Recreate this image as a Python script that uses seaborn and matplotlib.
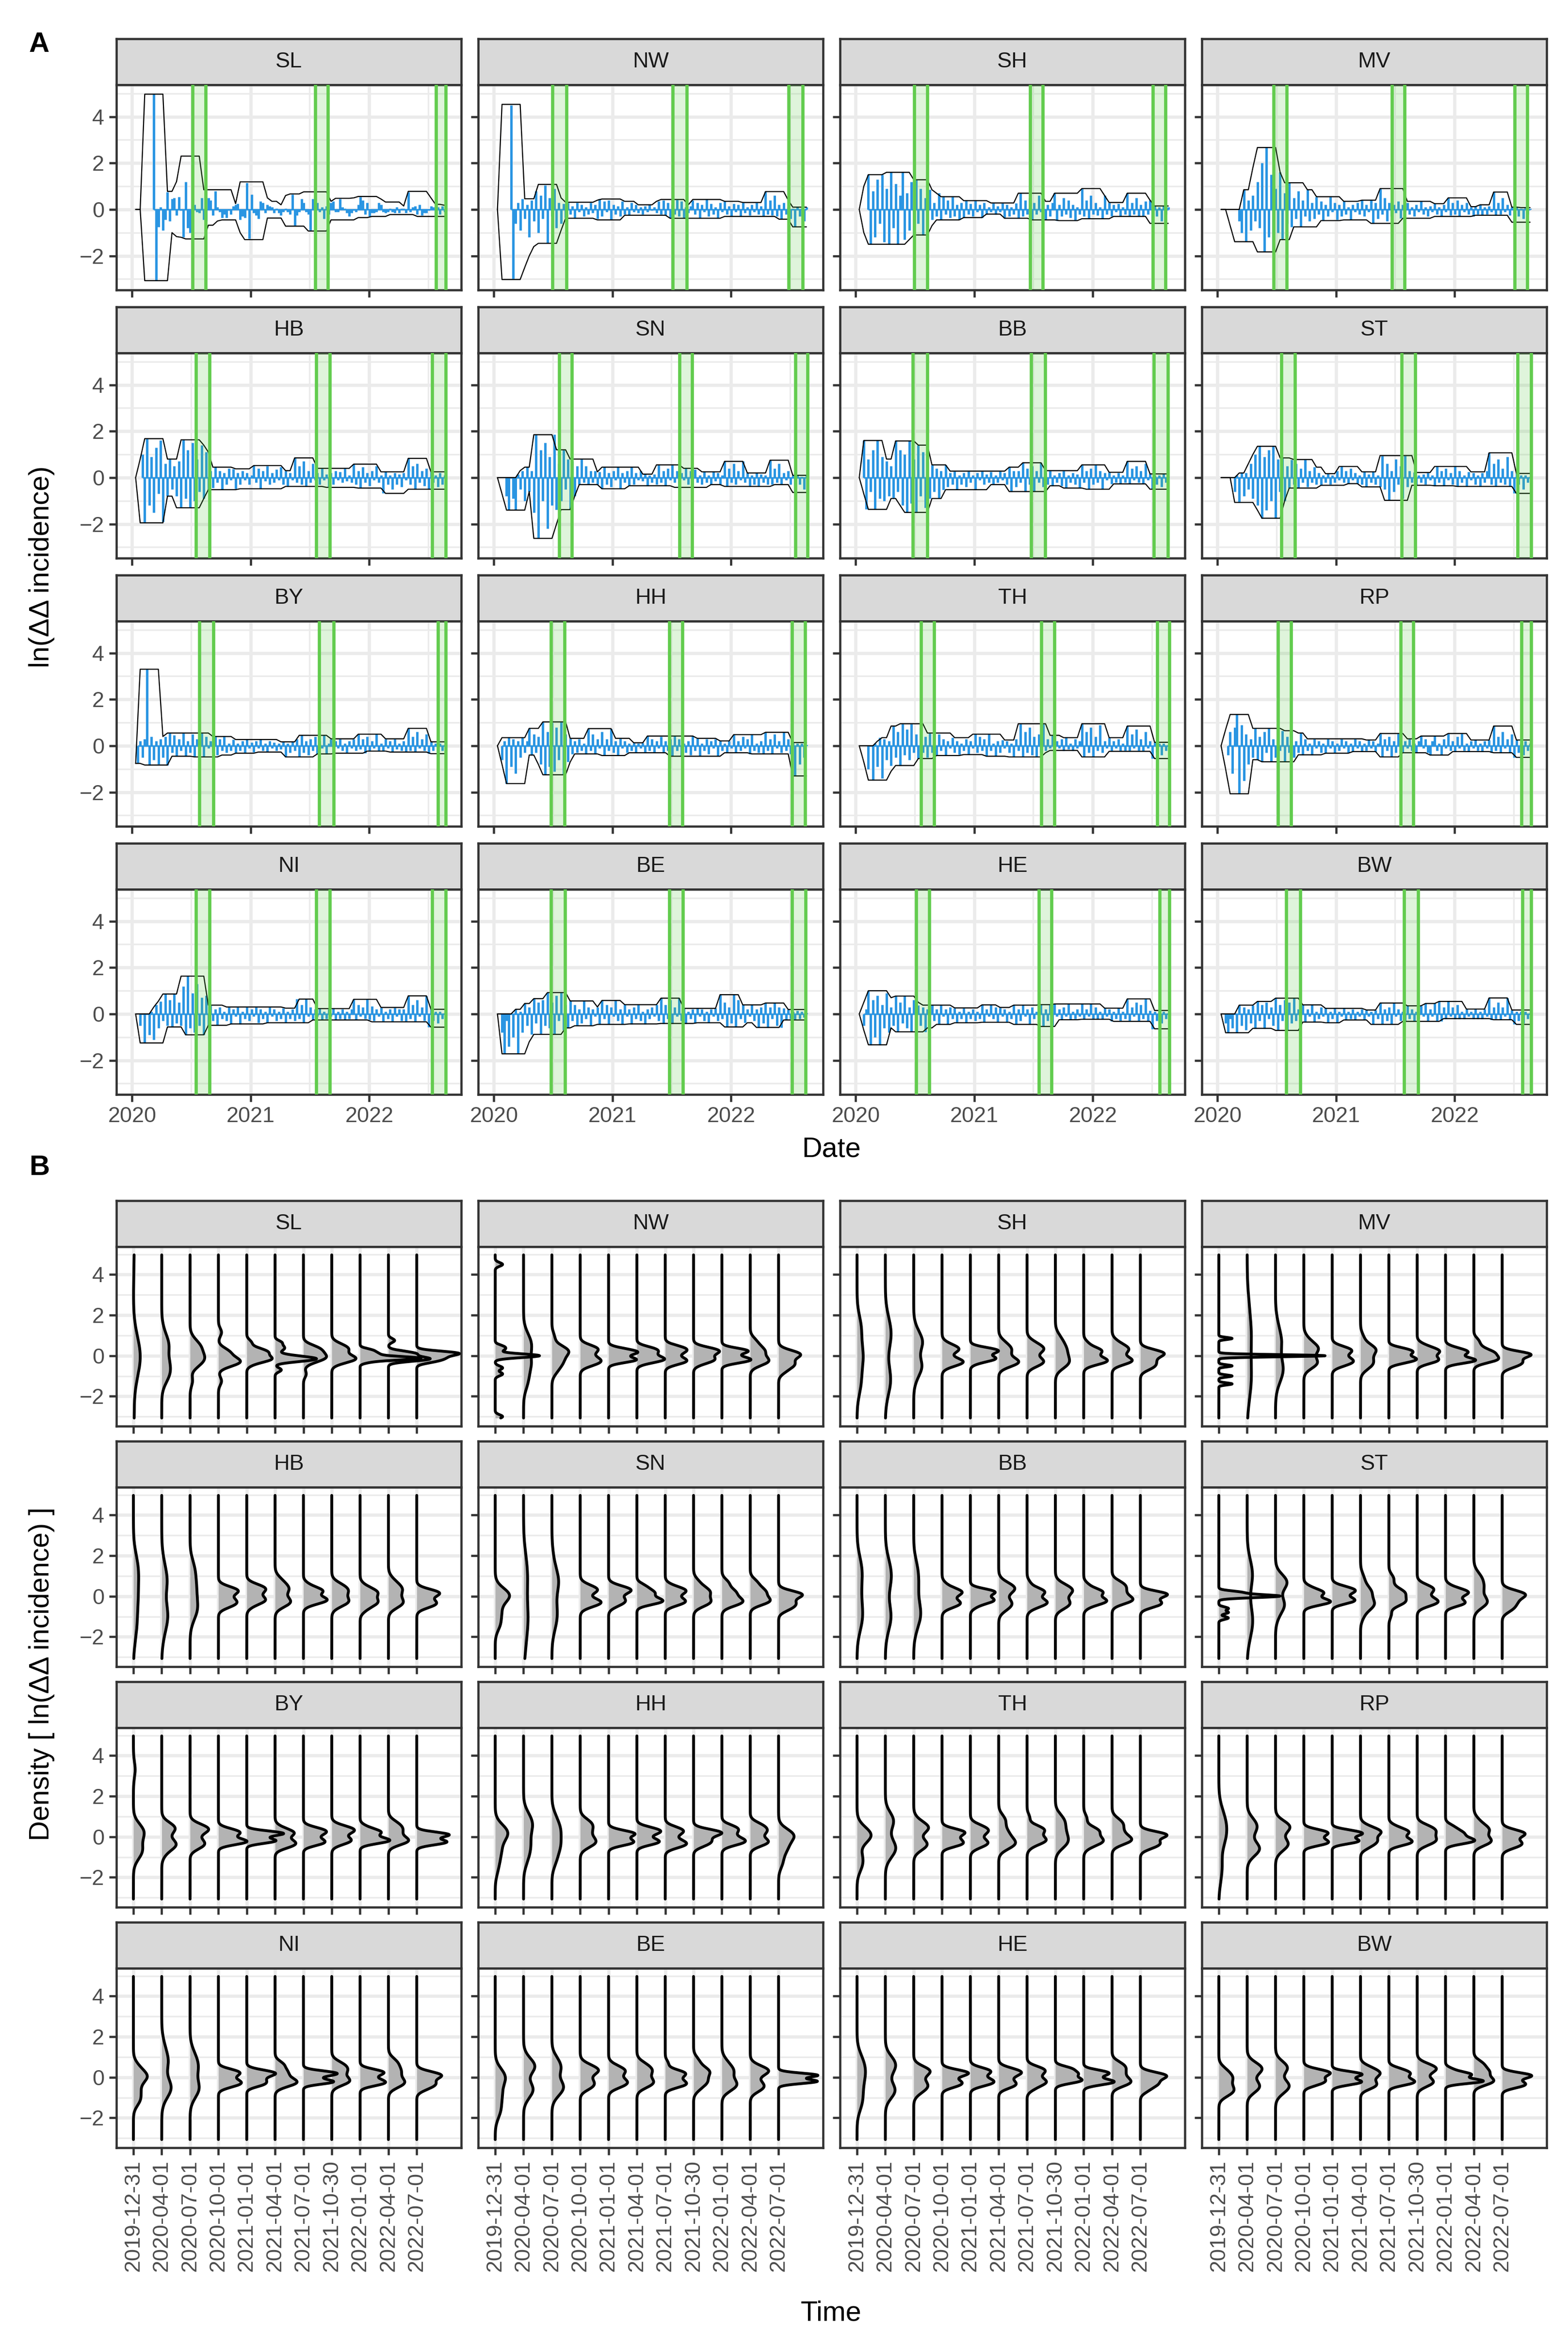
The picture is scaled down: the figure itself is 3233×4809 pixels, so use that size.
import numpy as np
import pandas as pd
import matplotlib
matplotlib.use("Agg")
import matplotlib.pyplot as plt
import matplotlib.dates as mdates
from matplotlib.ticker import MultipleLocator
import seaborn as sns

# ------------------------------------------------------------------ data
STATES = ["SL", "NW", "SH", "MV", "HB", "SN", "BB", "ST",
          "BY", "HH", "TH", "RP", "NI", "BE", "HE", "BW"]

ENV_START = "2020-01-12"     # envelope read every 14 days
SPIKE_START = "2020-01-12"   # weekly ln(dd incidence) values
X_RANGE = ("2020-01-01", "2022-08-24")

UPPER = {
    "SL": [0, 0, 4.97, 4.97, 4.97, 4.97, 4.97, 0.78, 0.78, 1.2, 2.3, 2.3, 2.3, 2.3, 2.3, 0.85, 0.85, 0.85, 0.85, 0.85, 0.85, 0.85, 0.25, 1.19, 1.19, 1.19, 1.19, 1.19, 1.19, 0.5, 0.35, 0.35, 0.2, 0.6, 0.67, 0.67, 0.67, 0.76, 0.76, 0.76, 0.76, 0.76, 0.76, 0.35, 0.48, 0.48, 0.48, 0.48, 0.5, 0.56, 0.56, 0.56, 0.56, 0.56, 0.45, 0.32, 0.32, 0.32, 0.32, 0.15, 0.78, 0.78, 0.78, 0.78, 0.78, 0.5, 0.22, 0.22, 0.18],
    "NW": [0, 4.53, 4.53, 4.53, 4.53, 4.53, 0.46, 0.46, 0.46, 1.08, 1.08, 1.08, 1.08, 1.08, 0.5, 0.31, 0.31, 0.31, 0.31, 0.31, 0.31, 0.31, 0.4, 0.45, 0.45, 0.45, 0.45, 0.45, 0.35, 0.35, 0.35, 0.2, 0.2, 0.2, 0.2, 0.35, 0.43, 0.43, 0.43, 0.43, 0.43, 0.43, 0.2, 0.43, 0.43, 0.43, 0.43, 0.43, 0.43, 0.43, 0.35, 0.35, 0.35, 0.35, 0.3, 0.3, 0.3, 0.3, 0.3, 0.77, 0.77, 0.77, 0.77, 0.77, 0.4, 0.1, 0.1, 0.1, 0.1],
    "SH": [0, 1.0, 1.5, 1.5, 1.5, 1.5, 1.6, 1.6, 1.6, 1.6, 1.6, 1.6, 1.28, 1.28, 1.28, 1.28, 0.85, 0.7, 0.55, 0.55, 0.55, 0.55, 0.55, 0.38, 0.38, 0.38, 0.38, 0.38, 0.38, 0.28, 0.28, 0.28, 0.28, 0.28, 0.28, 0.7, 0.7, 0.7, 0.7, 0.7, 0.7, 0.35, 0.35, 0.7, 0.7, 0.7, 0.7, 0.7, 0.7, 0.9, 0.9, 0.9, 0.9, 0.9, 0.6, 0.3, 0.3, 0.3, 0.3, 0.7, 0.7, 0.7, 0.7, 0.7, 0.4, 0.15, 0.15, 0.15, 0.15],
    "MV": [0, 0, 0, 0, 0, 0.85, 0.85, 1.8, 2.67, 2.67, 2.67, 2.67, 2.67, 1.6, 1.15, 1.15, 1.15, 1.15, 1.15, 0.85, 0.85, 0.55, 0.55, 0.55, 0.55, 0.55, 0.55, 0.35, 0.35, 0.35, 0.35, 0.4, 0.4, 0.4, 0.4, 0.9, 0.9, 0.9, 0.9, 0.9, 0.9, 0.35, 0.35, 0.35, 0.35, 0.35, 0.35, 0.25, 0.25, 0.25, 0.5, 0.5, 0.5, 0.5, 0.5, 0.12, 0.12, 0.2, 0.2, 0.2, 0.75, 0.75, 0.75, 0.75, 0.1, 0.1, 0.08, 0.08, 0.08],
    "HB": [0, 0.8, 1.68, 1.68, 1.68, 1.68, 1.68, 0.8, 0.8, 0.8, 1.63, 1.63, 1.63, 1.63, 1.63, 1.4, 1.1, 0.45, 0.45, 0.45, 0.45, 0.45, 0.38, 0.38, 0.38, 0.38, 0.52, 0.52, 0.52, 0.52, 0.52, 0.52, 0.52, 0.3, 0.3, 0.85, 0.85, 0.85, 0.85, 0.85, 0.4, 0.4, 0.4, 0.4, 0.4, 0.4, 0.4, 0.4, 0.58, 0.58, 0.58, 0.58, 0.58, 0.58, 0.25, 0.25, 0.25, 0.25, 0.25, 0.25, 0.83, 0.83, 0.83, 0.83, 0.83, 0.25, 0.25, 0.25, 0.25],
    "SN": [0, 0, 0, 0, 0, 0.3, 0.45, 0.45, 1.85, 1.85, 1.85, 1.85, 1.85, 1.2, 1.2, 1.2, 0.8, 0.8, 0.8, 0.8, 0.8, 0.8, 0.25, 0.45, 0.45, 0.45, 0.45, 0.45, 0.45, 0.45, 0.45, 0.45, 0.15, 0.15, 0.15, 0.55, 0.55, 0.55, 0.55, 0.55, 0.55, 0.4, 0.4, 0.4, 0.4, 0.25, 0.25, 0.25, 0.25, 0.25, 0.7, 0.7, 0.7, 0.7, 0.7, 0.2, 0.2, 0.2, 0.2, 0.2, 0.75, 0.75, 0.75, 0.75, 0.75, 0.1, 0.1, 0.1, 0.1],
    "BB": [0, 1.6, 1.6, 1.6, 1.6, 1.6, 0.8, 0.8, 1.58, 1.58, 1.58, 1.58, 1.58, 1.4, 1.4, 1.4, 0.55, 0.55, 0.55, 0.55, 0.28, 0.28, 0.28, 0.28, 0.28, 0.28, 0.28, 0.28, 0.28, 0.28, 0.28, 0.28, 0.28, 0.45, 0.45, 0.45, 0.64, 0.64, 0.64, 0.64, 0.64, 0.3, 0.3, 0.3, 0.3, 0.3, 0.3, 0.3, 0.3, 0.55, 0.55, 0.55, 0.55, 0.55, 0.55, 0.23, 0.23, 0.23, 0.23, 0.7, 0.7, 0.7, 0.7, 0.7, 0.16, 0.16, 0.16, 0.16, 0.16],
    "ST": [0, 0, 0, 0, 0.2, 0.2, 0.6, 1.0, 1.35, 1.35, 1.35, 1.35, 1.35, 0.85, 0.85, 0.85, 0.78, 0.78, 0.78, 0.78, 0.78, 0.45, 0.45, 0.17, 0.17, 0.17, 0.48, 0.48, 0.48, 0.48, 0.48, 0.25, 0.25, 0.25, 0.25, 0.95, 0.95, 0.95, 0.95, 0.95, 0.95, 0.95, 0.95, 0.22, 0.22, 0.22, 0.22, 0.48, 0.48, 0.48, 0.48, 0.48, 0.48, 0.48, 0.48, 0.25, 0.25, 0.25, 0.25, 1.07, 1.07, 1.07, 1.07, 1.07, 1.07, 0.18, 0.18, 0.18, 0.18],
    "BY": [-0.76, 3.3, 3.3, 3.3, 3.3, 3.3, 0.4, 0.55, 0.55, 0.55, 0.55, 0.55, 0.55, 0.55, 0.55, 0.55, 0.55, 0.4, 0.4, 0.4, 0.4, 0.4, 0.27, 0.27, 0.27, 0.27, 0.27, 0.27, 0.27, 0.27, 0.27, 0.27, 0.17, 0.17, 0.17, 0.17, 0.45, 0.45, 0.45, 0.45, 0.45, 0.45, 0.45, 0.3, 0.3, 0.3, 0.3, 0.3, 0.3, 0.5, 0.5, 0.5, 0.5, 0.5, 0.5, 0.3, 0.3, 0.3, 0.3, 0.3, 0.75, 0.75, 0.75, 0.75, 0.75, 0.17, 0.17, 0.17, 0.17],
    "HH": [0, 0.35, 0.35, 0.35, 0.35, 0.35, 0.35, 0.75, 0.75, 0.75, 1.03, 1.03, 1.03, 1.03, 1.03, 1.03, 0.32, 0.32, 0.32, 0.32, 0.74, 0.74, 0.74, 0.74, 0.74, 0.74, 0.32, 0.32, 0.32, 0.32, 0.13, 0.13, 0.13, 0.42, 0.42, 0.42, 0.42, 0.42, 0.42, 0.42, 0.42, 0.42, 0.42, 0.42, 0.32, 0.32, 0.32, 0.32, 0.32, 0.21, 0.21, 0.21, 0.48, 0.48, 0.48, 0.48, 0.48, 0.48, 0.48, 0.58, 0.58, 0.58, 0.58, 0.58, 0.58, 0.14, 0.14, 0.14, 0.14],
    "TH": [0, 0, 0, 0, 0.2, 0.35, 0.35, 0.85, 0.85, 0.95, 0.95, 0.95, 0.95, 0.95, 0.95, 0.55, 0.55, 0.55, 0.55, 0.55, 0.55, 0.35, 0.35, 0.35, 0.35, 0.5, 0.5, 0.5, 0.5, 0.5, 0.5, 0.5, 0.25, 0.25, 0.25, 0.95, 0.95, 0.95, 0.95, 0.95, 0.95, 0.95, 0.45, 0.45, 0.45, 0.35, 0.35, 0.35, 0.35, 0.95, 0.95, 0.95, 0.95, 0.95, 0.95, 0.35, 0.35, 0.35, 0.35, 0.85, 0.85, 0.85, 0.85, 0.85, 0.85, 0.15, 0.15, 0.15, 0.15],
    "RP": [0, 0.7, 1.35, 1.35, 1.35, 1.35, 1.35, 0.75, 0.75, 0.75, 0.75, 0.75, 0.75, 0.75, 0.65, 0.65, 0.65, 0.55, 0.55, 0.3, 0.3, 0.3, 0.3, 0.3, 0.3, 0.3, 0.3, 0.3, 0.3, 0.3, 0.3, 0.3, 0.25, 0.25, 0.25, 0.53, 0.53, 0.53, 0.53, 0.53, 0.53, 0.3, 0.3, 0.3, 0.42, 0.42, 0.42, 0.42, 0.42, 0.42, 0.53, 0.53, 0.53, 0.53, 0.53, 0.25, 0.25, 0.25, 0.25, 0.25, 0.85, 0.85, 0.85, 0.85, 0.85, 0.25, 0.25, 0.25, 0.25],
    "NI": [0, 0, 0, 0, 0.3, 0.55, 0.86, 0.86, 0.86, 0.86, 1.63, 1.63, 1.63, 1.63, 1.63, 1.63, 0.38, 0.38, 0.38, 0.38, 0.3, 0.3, 0.3, 0.3, 0.3, 0.3, 0.3, 0.3, 0.3, 0.3, 0.3, 0.3, 0.3, 0.25, 0.25, 0.25, 0.64, 0.64, 0.64, 0.64, 0.23, 0.23, 0.23, 0.23, 0.23, 0.23, 0.23, 0.23, 0.63, 0.63, 0.63, 0.63, 0.63, 0.63, 0.28, 0.28, 0.28, 0.28, 0.28, 0.28, 0.78, 0.78, 0.78, 0.78, 0.78, 0.2, 0.2, 0.2, 0.2],
    "BE": [0, 0, 0, 0, 0.2, 0.2, 0.45, 0.45, 0.66, 0.66, 0.66, 0.92, 0.92, 0.92, 0.92, 0.92, 0.56, 0.56, 0.56, 0.56, 0.56, 0.56, 0.3, 0.58, 0.58, 0.58, 0.58, 0.58, 0.4, 0.4, 0.4, 0.4, 0.4, 0.4, 0.4, 0.4, 0.68, 0.68, 0.68, 0.68, 0.68, 0.24, 0.24, 0.24, 0.24, 0.24, 0.24, 0.24, 0.24, 0.83, 0.83, 0.83, 0.83, 0.83, 0.39, 0.39, 0.39, 0.39, 0.39, 0.47, 0.47, 0.47, 0.47, 0.47, 0.19, 0.19, 0.19, 0.19, 0.19],
    "HE": [0, 0.5, 1.0, 1.0, 1.0, 1.0, 1.0, 0.7, 0.77, 0.77, 0.77, 0.77, 0.77, 0.5, 0.38, 0.38, 0.38, 0.38, 0.38, 0.38, 0.38, 0.26, 0.26, 0.26, 0.26, 0.26, 0.26, 0.39, 0.39, 0.39, 0.39, 0.28, 0.28, 0.28, 0.38, 0.38, 0.38, 0.38, 0.38, 0.38, 0.4, 0.4, 0.4, 0.43, 0.43, 0.43, 0.43, 0.43, 0.43, 0.43, 0.43, 0.43, 0.43, 0.43, 0.25, 0.25, 0.25, 0.25, 0.25, 0.65, 0.65, 0.65, 0.65, 0.65, 0.65, 0.15, 0.15, 0.15, 0.15],
    "BW": [0, 0, 0, 0, 0.38, 0.38, 0.38, 0.38, 0.54, 0.54, 0.54, 0.54, 0.68, 0.68, 0.68, 0.68, 0.68, 0.68, 0.39, 0.39, 0.39, 0.39, 0.39, 0.24, 0.24, 0.24, 0.24, 0.24, 0.24, 0.24, 0.24, 0.24, 0.17, 0.17, 0.17, 0.47, 0.47, 0.47, 0.47, 0.47, 0.47, 0.35, 0.35, 0.35, 0.35, 0.45, 0.45, 0.45, 0.54, 0.54, 0.54, 0.54, 0.54, 0.54, 0.21, 0.21, 0.21, 0.21, 0.21, 0.69, 0.69, 0.69, 0.69, 0.69, 0.17, 0.17, 0.17, 0.17, 0.17],
}

LOWER = {
    "SL": [0, 0, -3.07, -3.07, -3.07, -3.07, -3.07, -3.07, -1.0, -1.17, -1.2, -1.27, -1.27, -1.27, -1.27, -1.27, -0.68, -0.68, -0.5, -0.45, -0.45, -0.45, -0.45, -1.0, -1.3, -1.3, -1.3, -1.3, -1.3, -0.37, -0.37, -0.37, -0.37, -0.72, -0.72, -0.72, -0.72, -0.72, -0.93, -0.93, -0.93, -0.93, -0.93, -0.45, -0.45, -0.45, -0.45, -0.45, -0.45, -0.35, -0.35, -0.35, -0.3, -0.3, -0.3, -0.3, -0.22, -0.22, -0.22, -0.22, -0.22, -0.22, -0.3, -0.3, -0.3, -0.3, -0.3, -0.3, -0.3],
    "NW": [0, -3.02, -3.02, -3.02, -3.02, -3.02, -2.5, -2.0, -1.6, -1.46, -1.46, -1.46, -1.46, -1.46, -0.9, -0.38, -0.38, -0.38, -0.38, -0.38, -0.38, -0.38, -0.45, -0.45, -0.45, -0.45, -0.45, -0.45, -0.25, -0.25, -0.25, -0.25, -0.25, -0.25, -0.25, -0.25, -0.25, -0.25, -0.38, -0.38, -0.38, -0.38, -0.38, -0.38, -0.38, -0.38, -0.38, -0.38, -0.38, -0.38, -0.3, -0.3, -0.3, -0.3, -0.3, -0.3, -0.3, -0.3, -0.3, -0.3, -0.3, -0.3, -0.42, -0.42, -0.42, -0.75, -0.75, -0.75, -0.75],
    "SH": [0, -1.0, -1.5, -1.5, -1.5, -1.5, -1.5, -1.5, -1.5, -1.5, -1.5, -1.3, -1.1, -1.1, -1.1, -1.1, -0.7, -0.45, -0.45, -0.45, -0.45, -0.45, -0.45, -0.35, -0.35, -0.35, -0.35, -0.35, -0.2, -0.2, -0.2, -0.2, -0.38, -0.38, -0.38, -0.38, -0.38, -0.38, -0.45, -0.45, -0.45, -0.45, -0.45, -0.45, -0.48, -0.48, -0.48, -0.48, -0.48, -0.4, -0.4, -0.4, -0.4, -0.4, -0.4, -0.4, -0.3, -0.3, -0.3, -0.3, -0.3, -0.3, -0.3, -0.3, -0.6, -0.6, -0.6, -0.6, -0.6],
    "MV": [0, 0, -0.7, -1.39, -1.39, -1.39, -1.39, -1.39, -1.83, -1.83, -1.83, -1.83, -1.83, -1.3, -1.3, -1.3, -0.75, -0.75, -0.75, -0.75, -0.75, -0.75, -0.48, -0.48, -0.48, -0.48, -0.48, -0.45, -0.45, -0.45, -0.45, -0.45, -0.45, -0.6, -0.6, -0.6, -0.6, -0.6, -0.6, -0.6, -0.38, -0.38, -0.38, -0.38, -0.38, -0.38, -0.38, -0.3, -0.3, -0.3, -0.3, -0.3, -0.3, -0.3, -0.3, -0.3, -0.25, -0.25, -0.25, -0.25, -0.25, -0.25, -0.25, -0.25, -0.55, -0.55, -0.55, -0.55, -0.55],
    "HB": [0, -1.95, -1.95, -1.95, -1.95, -1.95, -1.95, -0.8, -0.8, -1.3, -1.3, -1.3, -1.3, -1.3, -1.3, -0.9, -0.52, -0.52, -0.52, -0.52, -0.52, -0.52, -0.52, -0.48, -0.48, -0.48, -0.48, -0.48, -0.48, -0.48, -0.48, -0.48, -0.48, -0.38, -0.38, -0.38, -0.38, -0.38, -0.38, -0.38, -0.38, -0.38, -0.42, -0.42, -0.42, -0.42, -0.42, -0.42, -0.42, -0.45, -0.45, -0.45, -0.45, -0.45, -0.45, -0.68, -0.68, -0.68, -0.68, -0.68, -0.5, -0.5, -0.5, -0.5, -0.5, -0.5, -0.5, -0.5, -0.5],
    "SN": [0, -0.7, -1.4, -1.4, -1.4, -1.4, -1.4, -0.6, -2.62, -2.62, -2.62, -2.62, -2.62, -2.0, -1.38, -1.38, -1.38, -0.8, -0.3, -0.3, -0.3, -0.3, -0.3, -0.48, -0.48, -0.48, -0.48, -0.48, -0.48, -0.35, -0.35, -0.35, -0.35, -0.35, -0.35, -0.35, -0.35, -0.35, -0.35, -0.42, -0.42, -0.42, -0.42, -0.42, -0.42, -0.42, -0.42, -0.3, -0.3, -0.3, -0.38, -0.38, -0.38, -0.38, -0.38, -0.38, -0.38, -0.38, -0.38, -0.38, -0.38, -0.3, -0.3, -0.3, -0.3, -0.64, -0.64, -0.64, -0.64],
    "BB": [0, -0.7, -1.37, -1.37, -1.37, -1.37, -1.37, -0.9, -0.9, -1.2, -1.5, -1.5, -1.5, -1.5, -1.5, -1.5, -0.9, -0.9, -0.9, -0.52, -0.52, -0.52, -0.52, -0.52, -0.52, -0.52, -0.52, -0.52, -0.52, -0.3, -0.3, -0.3, -0.3, -0.6, -0.6, -0.6, -0.6, -0.6, -0.6, -0.6, -0.6, -0.6, -0.35, -0.35, -0.35, -0.45, -0.45, -0.45, -0.45, -0.45, -0.5, -0.5, -0.5, -0.5, -0.5, -0.5, -0.27, -0.27, -0.27, -0.27, -0.27, -0.27, -0.27, -0.27, -0.5, -0.5, -0.5, -0.5, -0.5],
    "ST": [0, 0, 0, -1.07, -1.07, -1.07, -1.07, -1.07, -1.4, -1.75, -1.75, -1.75, -1.75, -1.75, -1.0, -0.45, -0.45, -0.45, -0.45, -0.45, -0.45, -0.45, -0.33, -0.33, -0.33, -0.33, -0.33, -0.33, -0.26, -0.26, -0.26, -0.4, -0.4, -0.4, -0.4, -0.4, -0.98, -0.98, -0.98, -0.98, -0.98, -0.98, -0.33, -0.33, -0.33, -0.33, -0.33, -0.35, -0.35, -0.35, -0.35, -0.35, -0.38, -0.38, -0.38, -0.38, -0.38, -0.38, -0.38, -0.38, -0.38, -0.38, -0.38, -0.38, -0.38, -0.68, -0.68, -0.68, -0.68],
    "BY": [-0.76, -0.76, -0.83, -0.83, -0.83, -0.83, -0.83, -0.83, -0.45, -0.45, -0.45, -0.45, -0.45, -0.48, -0.48, -0.48, -0.48, -0.48, -0.48, -0.4, -0.4, -0.4, -0.32, -0.32, -0.32, -0.32, -0.32, -0.27, -0.27, -0.27, -0.27, -0.27, -0.27, -0.48, -0.48, -0.48, -0.48, -0.48, -0.48, -0.48, -0.35, -0.35, -0.35, -0.35, -0.32, -0.32, -0.32, -0.32, -0.32, -0.32, -0.32, -0.23, -0.23, -0.23, -0.23, -0.23, -0.27, -0.27, -0.27, -0.27, -0.27, -0.27, -0.27, -0.27, -0.27, -0.34, -0.34, -0.34, -0.34],
    "HH": [0, -0.8, -1.63, -1.63, -1.63, -1.63, -1.63, -0.4, -0.4, -0.8, -1.25, -1.25, -1.25, -1.25, -1.25, -1.25, -0.7, -0.35, -0.35, -0.35, -0.35, -0.35, -0.35, -0.42, -0.42, -0.42, -0.42, -0.42, -0.42, -0.3, -0.3, -0.3, -0.3, -0.3, -0.3, -0.3, -0.3, -0.3, -0.45, -0.45, -0.45, -0.45, -0.45, -0.45, -0.45, -0.45, -0.45, -0.45, -0.45, -0.45, -0.3, -0.3, -0.3, -0.3, -0.3, -0.3, -0.35, -0.35, -0.35, -0.35, -0.35, -0.35, -0.35, -0.35, -0.35, -1.3, -1.3, -1.3, -1.3],
    "TH": [0, -0.7, -1.48, -1.48, -1.48, -1.48, -1.48, -1.1, -0.85, -0.85, -0.85, -0.85, -0.85, -0.55, -0.55, -0.55, -0.55, -0.42, -0.42, -0.42, -0.42, -0.42, -0.42, -0.38, -0.38, -0.38, -0.38, -0.38, -0.45, -0.45, -0.45, -0.45, -0.45, -0.48, -0.48, -0.48, -0.48, -0.48, -0.48, -0.48, -0.48, -0.3, -0.2, -0.2, -0.2, -0.2, -0.2, -0.2, -0.2, -0.48, -0.48, -0.48, -0.48, -0.48, -0.48, -0.24, -0.24, -0.24, -0.24, -0.24, -0.24, -0.24, -0.24, -0.24, -0.24, -0.55, -0.55, -0.55, -0.55],
    "RP": [0, -1.0, -2.07, -2.07, -2.07, -2.07, -2.07, -0.6, -0.6, -0.69, -0.69, -0.69, -0.69, -0.69, -0.69, -0.69, -0.69, -0.39, -0.39, -0.39, -0.39, -0.39, -0.39, -0.32, -0.32, -0.32, -0.32, -0.32, -0.32, -0.25, -0.25, -0.25, -0.25, -0.25, -0.25, -0.48, -0.48, -0.48, -0.48, -0.48, -0.3, -0.3, -0.3, -0.3, -0.3, -0.3, -0.4, -0.4, -0.4, -0.4, -0.4, -0.25, -0.25, -0.25, -0.25, -0.25, -0.25, -0.25, -0.25, -0.25, -0.3, -0.3, -0.3, -0.3, -0.3, -0.5, -0.5, -0.5, -0.5],
    "NI": [0, -1.25, -1.25, -1.25, -1.25, -1.25, -1.25, -0.56, -0.56, -0.56, -0.56, -0.9, -0.9, -0.9, -0.9, -0.9, -0.49, -0.49, -0.49, -0.49, -0.49, -0.43, -0.43, -0.43, -0.43, -0.43, -0.43, -0.43, -0.43, -0.38, -0.38, -0.38, -0.38, -0.38, -0.38, -0.38, -0.38, -0.38, -0.38, -0.26, -0.26, -0.26, -0.26, -0.26, -0.26, -0.26, -0.26, -0.26, -0.26, -0.26, -0.26, -0.26, -0.34, -0.34, -0.34, -0.34, -0.34, -0.34, -0.34, -0.34, -0.34, -0.34, -0.34, -0.34, -0.34, -0.57, -0.57, -0.57, -0.57],
    "BE": [0, -1.72, -1.72, -1.72, -1.72, -1.72, -1.72, -1.2, -0.88, -0.88, -0.88, -0.88, -0.88, -0.88, -0.88, -0.6, -0.6, -0.51, -0.51, -0.51, -0.51, -0.51, -0.45, -0.45, -0.45, -0.45, -0.45, -0.45, -0.45, -0.43, -0.43, -0.43, -0.43, -0.43, -0.43, -0.43, -0.41, -0.41, -0.41, -0.41, -0.41, -0.41, -0.41, -0.41, -0.38, -0.38, -0.38, -0.38, -0.38, -0.38, -0.56, -0.56, -0.56, -0.56, -0.56, -0.38, -0.38, -0.58, -0.58, -0.58, -0.58, -0.58, -0.58, -0.26, -0.26, -0.26, -0.26, -0.26, -0.26],
    "HE": [0, -0.7, -1.33, -1.33, -1.33, -1.33, -1.33, -0.6, -0.77, -0.77, -0.77, -0.77, -0.77, -0.77, -0.77, -0.6, -0.6, -0.45, -0.45, -0.45, -0.45, -0.38, -0.38, -0.38, -0.38, -0.38, -0.38, -0.36, -0.36, -0.36, -0.36, -0.36, -0.36, -0.36, -0.45, -0.45, -0.45, -0.45, -0.45, -0.45, -0.54, -0.54, -0.54, -0.54, -0.25, -0.25, -0.25, -0.25, -0.25, -0.23, -0.23, -0.23, -0.23, -0.23, -0.23, -0.23, -0.32, -0.32, -0.32, -0.32, -0.32, -0.32, -0.32, -0.32, -0.32, -0.64, -0.64, -0.64, -0.64],
    "BW": [0, -0.81, -0.81, -0.81, -0.81, -0.81, -0.81, -0.62, -0.62, -0.62, -0.62, -0.62, -0.71, -0.71, -0.71, -0.71, -0.71, -0.71, -0.35, -0.35, -0.35, -0.35, -0.35, -0.38, -0.38, -0.38, -0.38, -0.26, -0.26, -0.26, -0.26, -0.26, -0.26, -0.45, -0.45, -0.45, -0.45, -0.45, -0.45, -0.45, -0.32, -0.32, -0.32, -0.32, -0.32, -0.32, -0.32, -0.32, -0.32, -0.2, -0.2, -0.2, -0.2, -0.2, -0.2, -0.2, -0.2, -0.2, -0.2, -0.2, -0.25, -0.25, -0.25, -0.25, -0.25, -0.45, -0.45, -0.45, -0.45],
}

SPIKES = {
    "SL": [0, 0, 0, 0, 0, 0, 0, 0, 4.97, -3.07,
           -0.75, 0.1, -0.9, -0.45, 0.75, -0.5, 0.45, 0.5, -0.25, 0.55,
           -0.05, -1.2, 1.2, -0.8, -1.0, -1.25, 0.2, -0.1, -0.15, 0.5,
           -0.45, -0.5, 0.5, 0.4, -0.25, 0.8, 0.1, -0.1, -0.35, -0.2,
           -0.35, -0.05, -0.2, 0.15, 0.2, 0.25, -0.45, -0.3, -0.35, 1.15,
           -1.25, 0.65, -0.15, -0.25, -0.4, 0.35, 0.3, -0.15, 0.2, 0.15,
           0.1, -0.15, 0.05, -0.15, -0.25, -0.1, 0.05, -0.1, -0.2, 0.65,
           -0.7, -0.25, -0.1, 0.45, 0.3, -0.1, -0.2, -0.9, 0.45, -0.2,
           0.3, -0.1, 0.1, -0.4, 0.15, -0.2, 0.3, 0.35, -0.1, -0.1,
           0.45, 0.1, 0.05, -0.15, -0.3, -0.15, -0.05, -0.1, 0.2, 0.55,
           0.4, -0.2, 0.3, -0.3, -0.15, -0.15, -0.1, 0.3, 0.2, -0.1,
           -0.15, -0.1, 0.05, -0.1, -0.15, 0.1, -0.15, 0.05, 0.05, -0.15,
           0.75, -0.1, 0.1, 0.15, -0.2, 0.2, -0.25, -0.15, -0.15, -0.05,
           0.15, 0.1, -0.3, 0.1, -0.2, 0.15, -0.1],
    "NW": [0, 0, 0, 0, 0, 0, 4.5, -3.0, -0.6, 0.3,
           -0.9, 0.45, -0.4, 0.2, -1.2, 0.4, -0.5, 0.8, -1.0, 0.6,
           -0.4, 1.05, -1.45, 0.5, -0.3, 0.9, -0.8, 0.3, -0.6, 0.25,
           -0.35, 0.3, -0.2, 0.15, -0.35, 0.3, -0.1, 0.2, -0.3, 0.1,
           -0.2, 0.3, -0.15, 0.2, -0.4, 0.45, -0.3, 0.35, -0.1, 0.4,
           -0.45, 0.2, -0.2, 0.15, -0.3, 0.35, -0.2, 0.1, -0.25, 0.3,
           -0.1, 0.2, -0.15, 0.1, -0.2, 0.15, -0.1, 0.2, -0.05, 0.1,
           -0.15, 0.35, -0.2, 0.4, -0.25, 0.3, -0.35, 0.2, -0.2, 0.42,
           -0.3, 0.35, -0.38, 0.1, -0.15, 0.15, 0.4, -0.2, 0.3, -0.35,
           0.2, -0.1, 0.43, -0.3, 0.25, -0.2, 0.1, -0.38, 0.3, -0.1,
           0.35, -0.2, 0.15, -0.3, 0.25, -0.1, 0.2, -0.3, 0.3, -0.15,
           0.1, -0.25, 0.2, -0.1, 0.3, -0.2, 0.15, -0.3, 0.77, -0.2,
           0.4, -0.25, 0.6, -0.3, 0.2, -0.42, 0.3, -0.2, 0.1, -0.4,
           0.05, -0.75, 0.1, -0.3, 0.05, -0.5, 0.1],
    "SH": [0, 0, 0, 0, 1.5, -1.5, 0.8, -1.2, 1.3, -0.6,
           1.5, -1.4, 0.9, -1.5, 1.6, -0.8, 1.1, -1.5, 0.6, 1.6,
           -1.3, 0.7, -0.9, 1.2, -1.1, 1.28, -0.6, 0.9, -1.1, 0.5,
           -0.7, 0.85, -0.45, 0.3, -0.3, 0.7, -0.45, 0.55, -0.2, 0.4,
           -0.35, 0.55, -0.3, 0.2, -0.45, 0.3, -0.35, 0.38, -0.2, 0.25,
           -0.3, 0.38, -0.1, 0.2, -0.35, 0.3, -0.2, 0.1, -0.1, 0.28,
           -0.2, 0.15, -0.1, 0.28, -0.38, 0.2, -0.3, 0.1, -0.2, 0.28,
           -0.38, 0.7, -0.3, 0.4, -0.2, 0.5, -0.45, 0.3, -0.2, 0.6,
           -0.1, 0.35, -0.45, 0.2, -0.3, 0.3, 0.7, -0.48, 0.2, -0.3,
           0.5, -0.2, 0.4, -0.35, 0.2, -0.48, 0.1, -0.2, 0.9, -0.3,
           0.4, -0.4, 0.6, -0.2, 0.3, -0.25, 0.1, -0.4, 0.6, -0.2,
           0.3, -0.3, 0.2, -0.1, 0.25, -0.3, 0.1, -0.2, 0.7, -0.3,
           0.3, -0.2, 0.5, -0.3, 0.2, -0.3, 0.35, -0.2, 0.4, -0.6,
           0.15, -0.3, 0.1, -0.5, 0.15, -0.2, 0.1],
    "MV": [0, 0, 0, 0, 0, 0, 0, 0, -0.5, -1.0,
           0.85, -1.39, 0.4, -0.9, 0.6, -0.5, 1.2, -0.8, 2.0, -1.83,
           2.67, -1.2, 1.5, -1.83, 0.9, -1.0, 1.6, -1.3, 0.7, -0.6,
           1.15, -0.75, 0.5, -0.4, 0.8, -0.75, 0.4, -0.3, 0.85, -0.5,
           0.3, -0.4, 0.55, -0.2, 0.35, -0.48, 0.2, -0.3, 0.55, -0.1,
           0.3, -0.45, 0.2, -0.3, 0.35, -0.2, 0.1, -0.45, 0.2, -0.1,
           0.3, -0.2, 0.4, -0.3, 0.2, -0.1, 0.4, -0.6, 0.3, -0.4,
           0.9, -0.2, 0.5, -0.5, 0.3, -0.3, 0.2, -0.15, 0.35, -0.38,
           0.2, -0.1, 0.3, -0.2, 0.1, -0.3, 0.2, -0.1, 0.35, -0.2,
           0.1, -0.3, 0.15, -0.1, 0.25, -0.2, 0.1, -0.3, 0.2, -0.1,
           0.5, -0.25, 0.3, -0.2, 0.4, -0.3, 0.2, -0.1, 0.3, -0.2,
           0.1, -0.3, 0.12, -0.2, 0.2, -0.25, 0.1, -0.2, 0.15, -0.1,
           0.75, -0.25, 0.3, -0.2, 0.5, -0.1, 0.2, -0.25, 0.1, -0.55,
           0.1, -0.3, 0.05, -0.4, 0.08, -0.2, 0.05],
    "HB": [0, 0, 0, 1.0, -1.95, 1.68, -1.2, 0.9, -1.5, 1.3,
           -0.7, 1.6, -1.9, 0.6, -0.8, 0.8, -0.5, 0.5, -0.8, 0.7,
           -1.3, 1.63, -0.9, 1.2, -1.3, 1.5, -1.0, 0.8, -0.6, 1.4,
           -0.9, 1.1, -0.52, 0.3, -0.45, 0.45, -0.2, 0.3, -0.5, 0.2,
           -0.3, 0.4, -0.1, 0.38, -0.48, 0.2, -0.3, 0.3, -0.1, 0.2,
           -0.3, 0.1, 0.52, -0.2, 0.4, -0.48, 0.3, -0.15, 0.5, -0.3,
           0.2, -0.2, 0.35, -0.1, 0.45, -0.3, 0.3, -0.38, 0.2, -0.1,
           0.85, -0.2, 0.5, -0.3, 0.7, -0.38, 0.3, -0.2, 0.6, -0.1,
           0.2, -0.3, 0.4, -0.1, 0.15, -0.42, 0.2, -0.3, 0.3, -0.1,
           0.25, -0.2, 0.4, -0.15, 0.1, -0.2, 0.58, -0.3, 0.3, -0.45,
           0.45, -0.2, 0.2, -0.35, 0.3, -0.1, 0.5, -0.2, 0.1, -0.68,
           0.25, -0.3, 0.1, -0.5, 0.2, -0.3, 0.15, -0.4, 0.2, -0.1,
           0.83, -0.3, 0.5, -0.5, 0.6, -0.2, 0.3, -0.35, 0.4, -0.5,
           0.25, -0.2, 0.1, -0.4, 0.2, -0.3, 0.1],
    "SN": [0, 0, 0, 0, -0.8, -1.4, 0, -0.9, -1.4, 0.15,
           -0.5, 0.3, -1.0, 0.45, -0.6, 0.3, -1.5, 1.85, -2.62, 1.2,
           -1.0, 1.5, -2.2, 0.9, -1.2, 1.85, -1.38, 0.6, -1.0, 1.2,
           -0.5, 0.8, -1.38, 0.7, -0.8, 0.5, -0.3, 0.8, -0.2, 0.5,
           -0.3, 0.3, -0.2, 0.3, -0.3, 0.25, -0.48, 0.45, -0.3, 0.2,
           -0.4, 0.3, -0.1, 0.45, -0.48, 0.2, -0.2, 0.3, -0.35, 0.45,
           -0.3, 0.2, -0.1, 0.3, -0.15, 0.15, -0.35, 0.1, -0.2, 0.15,
           -0.3, 0.55, -0.2, 0.3, -0.35, 0.4, -0.1, 0.55, -0.2, 0.3,
           -0.42, 0.2, -0.1, 0.4, -0.3, 0.3, -0.42, 0.35, -0.2, 0.1,
           -0.3, 0.25, -0.2, 0.1, -0.3, 0.25, -0.15, 0.2, -0.3, 0.1,
           0.7, -0.38, 0.4, -0.2, 0.6, -0.3, 0.3, -0.1, 0.7, -0.2,
           0.2, -0.38, 0.1, -0.3, 0.2, -0.38, 0.15, -0.2, 0.1, -0.3,
           0.75, -0.3, 0.4, -0.2, 0.6, -0.3, 0.2, -0.1, 0.3, -0.3,
           0.1, -0.64, 0.1, -0.3, 0.05, -0.5, 0.1],
    "BB": [0, 0, 1.6, -1.37, 0.8, -0.6, 1.2, -1.37, 1.6, -0.9,
           0.9, -1.0, 0.7, -0.8, 0.5, -0.9, 1.58, -0.6, 1.2, -1.2,
           1.0, -1.5, 1.58, -1.1, 0.8, -1.5, 1.4, -0.8, 1.1, -1.3,
           1.4, -0.9, 0.55, -0.6, 0.4, -0.9, 0.3, -0.52, 0.55, -0.4,
           0.2, -0.3, 0.28, -0.52, 0.1, -0.3, 0.2, -0.4, 0.28, -0.2,
           0.1, -0.52, 0.2, -0.1, 0.28, -0.3, 0.15, -0.2, 0.25, -0.3,
           0.1, -0.2, 0.28, -0.1, 0.2, -0.3, 0.45, -0.6, 0.3, -0.4,
           0.3, -0.2, 0.64, -0.6, 0.4, -0.3, 0.5, -0.6, 0.3, -0.2,
           0.64, -0.4, 0.2, -0.3, 0.3, -0.35, 0.1, -0.2, 0.2, -0.35,
           0.3, -0.45, 0.1, -0.2, 0.2, -0.3, 0.15, -0.45, 0.55, -0.2,
           0.3, -0.5, 0.4, -0.3, 0.55, -0.2, 0.3, -0.5, 0.2, -0.1,
           0.23, -0.27, 0.1, -0.2, 0.2, -0.27, 0.1, -0.2, 0.7, -0.27,
           0.4, -0.1, 0.5, -0.2, 0.3, -0.27, 0.6, -0.1, 0.16, -0.5,
           0.1, -0.3, 0.1, -0.4, 0.16, -0.2, 0.05],
    "ST": [0, 0, 0, 0, 0, 0, -0.6, 0.1, -1.07, 0.2,
           -0.8, 0.2, -0.5, 0.6, -0.9, 1.0, -1.2, 1.35, -1.75, 0.9,
           -1.4, 1.2, -1.0, 1.35, -1.75, 0.8, -0.6, 0.85, -1.0, 0.5,
           -0.45, 0.78, -0.3, 0.6, -0.45, 0.4, -0.2, 0.78, -0.4, 0.3,
           -0.2, 0.45, -0.3, 0.2, -0.33, 0.1, -0.2, 0.17, -0.3, 0.1,
           -0.2, 0.3, -0.1, 0.48, -0.2, 0.3, -0.26, 0.4, -0.1, 0.2,
           -0.26, 0.1, -0.3, 0.25, -0.4, 0.15, -0.2, 0.25, -0.3, 0.1,
           -0.4, 0.95, -0.5, 0.6, -0.98, 0.3, -0.6, 0.8, -0.3, 0.5,
           -0.9, 0.95, -0.4, 0.3, -0.2, 0.22, -0.33, 0.1, -0.2, 0.15,
           -0.3, 0.2, -0.1, 0.1, -0.35, 0.48, -0.2, 0.3, -0.35, 0.4,
           -0.1, 0.2, -0.3, 0.48, -0.38, 0.3, -0.2, 0.1, -0.38, 0.25,
           -0.1, 0.2, -0.3, 0.1, -0.38, 0.2, -0.2, 0.3, 1.07, -0.3,
           0.6, -0.38, 0.8, -0.2, 0.4, -0.3, 0.9, -0.38, 0.3, -0.68,
           0.18, -0.3, 0.1, -0.5, 0.1, -0.2, 0.05],
    "BY": [0, -0.76, 0.2, -0.5, 0.3, 3.3, -0.83, 0.4, -0.6, 0.2,
           -0.8, 0.3, -0.5, 0.4, -0.83, 0.55, -0.3, 0.45, -0.45, 0.3,
           -0.2, 0.55, -0.45, 0.2, -0.3, 0.5, -0.48, 0.3, -0.2, 0.55,
           -0.48, 0.4, -0.1, 0.2, -0.3, 0.4, -0.4, 0.3, -0.2, 0.4,
           -0.3, 0.1, -0.2, 0.27, -0.32, 0.1, -0.2, 0.2, -0.3, 0.27,
           -0.1, 0.15, -0.27, 0.2, -0.1, 0.27, -0.2, 0.1, -0.27, 0.2,
           -0.1, 0.15, -0.2, 0.1, -0.15, 0.17, -0.48, 0.1, -0.3, 0.17,
           -0.2, 0.3, -0.48, 0.45, -0.3, 0.2, -0.4, 0.3, -0.2, 0.4,
           -0.35, 0.2, -0.1, 0.45, -0.35, 0.1, 0.3, -0.32, 0.2, -0.1,
           0.3, -0.2, 0.1, -0.32, 0.2, -0.1, 0.3, -0.2, 0.5, -0.15,
           0.3, -0.32, 0.4, -0.23, 0.2, -0.1, 0.5, -0.2, 0.1, -0.23,
           0.3, -0.1, 0.2, -0.27, 0.3, -0.15, 0.1, -0.2, 0.2, -0.27,
           0.75, -0.2, 0.4, -0.27, 0.6, -0.1, 0.3, -0.2, 0.5, -0.34,
           0.17, -0.2, 0.1, -0.3, 0.1, -0.2, 0.05],
    "HH": [0, 0, -0.6, 0.2, -1.63, 0.35, -0.9, 0.3, -1.2, 0.2,
           -0.5, 0.35, -0.3, 0.2, 0.75, -0.4, 0.5, -0.3, 0.4, -0.8,
           1.03, -1.25, 0.6, -0.9, 1.0, -1.1, 0.8, -0.6, 1.03, -1.25,
           0.5, -0.7, 0.32, -0.35, 0.2, -0.3, 0.3, -0.2, 0.1, -0.35,
           0.74, -0.2, 0.5, -0.35, 0.3, -0.1, 0.6, -0.42, 0.3, -0.2,
           0.74, -0.3, 0.2, -0.42, 0.32, -0.1, 0.2, -0.3, 0.1, -0.2,
           0.13, -0.3, 0.1, -0.1, 0.13, -0.3, 0.42, -0.2, 0.3, -0.3,
           0.2, -0.1, 0.4, -0.3, 0.2, -0.2, 0.3, -0.45, 0.42, -0.2,
           0.3, -0.45, 0.1, -0.3, 0.2, -0.4, 0.42, -0.2, 0.32, -0.45,
           0.1, -0.2, 0.3, -0.35, 0.2, -0.1, 0.3, -0.45, 0.21, -0.2,
           0.1, -0.3, 0.2, -0.1, 0.48, -0.3, 0.2, -0.2, 0.4, -0.1,
           0.3, -0.35, 0.48, -0.2, 0.1, -0.3, 0.2, -0.35, 0.58, -0.2,
           0.3, -0.35, 0.5, -0.1, 0.2, -0.3, 0.58, -0.2, 0.3, -0.35,
           0.14, -1.3, 0.1, -0.8, 0.1, -0.5, 0.05],
    "TH": [0, 0, 0, 0, -1.0, 0, -1.48, 0.1, -0.9, 0.35,
           -1.4, 0.3, -0.6, 0.2, -0.85, 0.85, -0.5, 0.6, -0.85, 0.95,
           -0.4, 0.7, -0.6, 0.95, -0.3, 0.5, -0.55, 0.8, -0.3, 0.4,
           -0.5, 0.55, -0.3, 0.3, -0.42, 0.5, -0.2, 0.3, -0.42, 0.2,
           -0.1, 0.35, -0.3, 0.2, -0.38, 0.1, -0.2, 0.3, -0.38, 0.2,
           -0.1, 0.5, -0.3, 0.4, -0.2, 0.3, -0.45, 0.5, -0.2, 0.1,
           -0.45, 0.2, -0.3, 0.25, -0.1, 0.2, -0.3, 0.1, -0.48, 0.3,
           -0.2, 0.95, -0.48, 0.6, -0.3, 0.8, -0.4, 0.4, -0.48, 0.5,
           -0.3, 0.95, -0.2, 0.3, -0.1, 0.45, -0.2, 0.2, -0.1, 0.3,
           -0.2, 0.35, -0.15, 0.1, -0.2, 0.3, -0.1, 0.2, 0.95, -0.48,
           0.6, -0.3, 0.8, -0.48, 0.4, -0.2, 0.9, -0.3, 0.2, -0.1,
           0.35, -0.24, 0.2, -0.1, 0.3, -0.24, 0.1, -0.2, 0.85, -0.24,
           0.5, -0.1, 0.7, -0.2, 0.3, -0.24, 0.6, -0.1, 0.2, -0.55,
           0.15, -0.3, 0.1, -0.4, 0.1, -0.2, 0.05],
    "RP": [0, 0, 0, -0.4, 0.6, -1.2, 0.8, 1.35, -2.07, 0.9,
           -1.5, 0.5, -0.8, 0.3, -0.5, 0.75, -0.6, 0.4, -0.69, 0.6,
           -0.3, 0.75, -0.69, 0.3, -0.5, 0.5, -0.2, 0.65, -0.69, 0.4,
           -0.3, 0.65, -0.5, 0.2, -0.3, 0.55, -0.39, 0.3, -0.2, 0.1,
           -0.39, 0.3, -0.1, 0.2, -0.3, 0.1, -0.32, 0.3, -0.1, 0.2,
           -0.32, 0.1, -0.2, 0.3, -0.1, 0.2, -0.3, 0.1, -0.25, 0.3,
           -0.1, 0.2, -0.25, 0.1, -0.2, 0.25, -0.1, 0.2, -0.25, 0.1,
           0.53, -0.48, 0.3, -0.2, 0.4, -0.48, 0.2, -0.3, 0.53, -0.1,
           -0.3, 0.2, -0.1, 0.3, -0.2, 0.1, -0.3, 0.2, 0.42, -0.1,
           0.3, -0.3, -0.4, 0.2, 0.42, -0.2, 0.1, -0.4, 0.3, -0.1,
           0.53, -0.2, 0.2, -0.25, 0.4, -0.1, 0.53, -0.2, 0.1, -0.25,
           0.2, -0.1, 0.25, -0.2, 0.1, -0.25, 0.2, -0.1, 0.25, -0.3,
           0.85, -0.2, 0.4, -0.3, 0.6, -0.1, 0.3, -0.3, 0.5, -0.5,
           0.25, -0.3, 0.1, -0.4, 0.2, -0.2, 0.1],
    "NI": [0, 0, -0.5, 0, -1.25, 0, -0.9, 0.1, -1.1, 0.4,
           -0.6, 0.55, -0.3, 0.86, -0.5, 0.6, -0.56, 0.86, -0.4, 0.5,
           -0.5, 1.2, -0.9, 1.63, -0.6, 0.9, -0.8, 1.3, -0.5, 0.7,
           -0.9, 0.8, -0.49, 0.38, -0.3, 0.2, -0.49, 0.3, -0.2, 0.1,
           -0.3, 0.3, -0.43, 0.2, -0.1, 0.3, -0.43, 0.1, -0.2, 0.3,
           -0.3, 0.2, -0.1, 0.3, -0.38, 0.2, -0.2, 0.1, -0.38, 0.3,
           -0.1, 0.2, -0.3, 0.1, -0.2, 0.25, -0.38, 0.1, -0.2, 0.2,
           -0.3, 0.64, -0.2, 0.4, -0.38, 0.64, -0.1, 0.3, -0.26, 0.2,
           -0.1, 0.23, -0.26, 0.1, -0.2, 0.2, -0.1, 0.23, -0.26, 0.1,
           -0.2, 0.2, -0.26, 0.1, -0.2, 0.2, 0.63, -0.26, 0.4, -0.1,
           0.3, -0.2, 0.63, -0.26, 0.34, -0.3, 0.2, -0.1, 0.28, -0.34,
           0.1, -0.2, 0.2, -0.34, 0.28, -0.1, 0.2, -0.3, 0.2, -0.34,
           0.78, -0.2, 0.4, -0.34, 0.6, -0.1, 0.3, -0.3, 0.78, -0.57,
           0.2, -0.3, 0.1, -0.4, 0.1, -0.2, 0.05],
    "BE": [0, 0, -0.8, -1.72, -0.3, -1.4, 0, -1.0, 0.2, -1.72,
           0.1, -0.8, 0.45, -0.5, 0.3, -0.88, 0.66, -0.4, 0.5, -0.88,
           0.6, -0.5, 0.92, -0.6, 0.5, -0.88, 0.8, -0.3, 0.92, -0.7,
           0.4, -0.6, 0.56, -0.3, 0.4, -0.51, 0.2, -0.4, 0.56, -0.2,
           0.3, -0.51, 0.2, -0.1, 0.3, -0.45, 0.58, -0.2, 0.4, -0.45,
           0.3, -0.1, 0.58, -0.3, 0.2, -0.45, 0.4, -0.1, 0.2, -0.43,
           0.3, -0.2, 0.4, -0.3, 0.1, -0.43, 0.2, -0.2, 0.3, -0.1,
           0.4, -0.3, 0.68, -0.41, 0.4, -0.2, 0.6, -0.41, 0.3, -0.1,
           0.68, -0.3, 0.24, -0.41, 0.1, -0.2, 0.2, -0.38, 0.24, -0.1,
           0.2, -0.3, 0.1, -0.38, 0.2, -0.1, 0.24, -0.3, 0.83, -0.2,
           0.5, -0.56, 0.3, -0.4, 0.83, -0.56, 0.6, -0.2, 0.39, -0.38,
           0.2, -0.1, 0.39, -0.3, 0.2, -0.58, 0.3, -0.4, 0.47, -0.58,
           0.3, -0.2, 0.47, -0.5, 0.3, -0.58, 0.26, -0.26, 0.19, -0.2,
           0.1, -0.26, 0.15, -0.2, 0.1, -0.15, 0.05],
    "HE": [0, 0, -0.5, 0.2, 1.0, -1.33, 0.6, -1.0, 0.8, -1.33,
           0.4, -0.6, 0.9, -0.8, 0.3, -0.5, 0.77, -0.77, 0.5, -0.4,
           0.77, -0.6, 0.3, -0.77, 0.6, -0.3, 0.38, -0.5, 0.3, -0.77,
           0.2, -0.6, 0.38, -0.3, 0.2, -0.45, 0.38, -0.1, 0.2, -0.45,
           0.3, -0.2, 0.26, -0.38, 0.1, -0.2, 0.26, -0.38, 0.1, -0.2,
           0.2, -0.3, 0.1, -0.2, 0.39, -0.36, 0.2, -0.1, 0.39, -0.2,
           0.3, -0.36, 0.28, -0.1, 0.2, -0.36, 0.1, -0.2, 0.38, -0.45,
           0.2, -0.3, 0.38, -0.1, 0.2, -0.45, 0.3, -0.2, 0.1, -0.3,
           0.4, -0.54, 0.2, -0.3, 0.4, -0.54, 0.43, -0.1, 0.2, -0.25,
           0.3, -0.1, 0.43, -0.25, 0.1, -0.2, 0.2, -0.1, 0.43, -0.23,
           0.2, -0.1, 0.43, -0.2, 0.3, -0.23, 0.1, -0.2, 0.25, -0.1,
           0.2, -0.32, 0.1, -0.2, 0.25, -0.32, 0.1, -0.2, 0.65, -0.32,
           0.3, -0.1, 0.5, -0.32, 0.4, -0.2, 0.65, -0.3, 0.15, -0.64,
           0.1, -0.3, 0.1, -0.4, 0.1, -0.2, 0.05],
    "BW": [0, 0, -0.4, -0.81, -0.2, -0.6, 0, -0.81, 0.38, -0.5,
           0.3, -0.7, 0.2, -0.4, 0.38, -0.62, 0.54, -0.3, 0.4, -0.62,
           0.5, -0.2, 0.3, -0.5, 0.68, -0.71, 0.4, -0.3, 0.6, -0.71,
           0.5, -0.4, 0.68, -0.3, 0.2, -0.5, 0.39, -0.35, 0.2, -0.1,
           0.39, -0.35, 0.1, -0.2, 0.3, -0.1, 0.24, -0.38, 0.1, -0.2,
           0.24, -0.38, 0.1, -0.1, 0.24, -0.26, 0.1, -0.2, 0.2, -0.26,
           0.1, -0.1, 0.2, -0.26, 0.17, -0.1, 0.1, -0.45, 0.17, -0.2,
           0.47, -0.45, 0.2, -0.3, 0.3, -0.45, 0.47, -0.1, 0.2, -0.3,
           0.1, -0.32, 0.35, -0.2, 0.2, -0.32, 0.1, -0.2, 0.35, -0.1,
           0.45, -0.32, 0.2, -0.1, 0.45, -0.3, 0.54, -0.32, 0.3, -0.2,
           0.54, -0.1, 0.3, -0.2, 0.4, -0.2, 0.1, -0.2, 0.21, -0.1,
           0.1, -0.2, 0.21, -0.2, 0.1, -0.2, 0.21, -0.1, 0.69, -0.25,
           0.3, -0.2, 0.5, -0.25, 0.3, -0.1, 0.69, -0.25, 0.17, -0.45,
           0.1, -0.3, 0.1, -0.4, 0.1, -0.2, 0.05],
}

# summer school holidays (start, end) 2020 / 2021 / 2022
HOLIDAYS = {
    "SL": [("2020-07-06", "2020-08-14"), ("2021-07-19", "2021-08-27"), ("2022-07-25", "2022-09-02")],
    "NW": [("2020-06-29", "2020-08-11"), ("2021-07-05", "2021-08-17"), ("2022-06-27", "2022-08-09")],
    "SH": [("2020-06-29", "2020-08-08"), ("2021-06-21", "2021-07-31"), ("2022-07-04", "2022-08-13")],
    "MV": [("2020-06-22", "2020-08-01"), ("2021-06-21", "2021-07-31"), ("2022-07-04", "2022-08-13")],
    "HB": [("2020-07-16", "2020-08-26"), ("2021-07-22", "2021-09-01"), ("2022-07-14", "2022-08-24")],
    "SN": [("2020-07-20", "2020-08-28"), ("2021-07-26", "2021-09-03"), ("2022-07-18", "2022-08-26")],
    "BB": [("2020-06-25", "2020-08-08"), ("2021-06-24", "2021-08-07"), ("2022-07-07", "2022-08-20")],
    "ST": [("2020-07-16", "2020-08-26"), ("2021-07-22", "2021-09-01"), ("2022-07-14", "2022-08-24")],
    "BY": [("2020-07-27", "2020-09-07"), ("2021-07-30", "2021-09-13"), ("2022-08-01", "2022-09-12")],
    "HH": [("2020-06-25", "2020-08-05"), ("2021-06-24", "2021-08-04"), ("2022-07-07", "2022-08-17")],
    "TH": [("2020-07-20", "2020-08-29"), ("2021-07-26", "2021-09-04"), ("2022-07-18", "2022-08-27")],
    "RP": [("2020-07-06", "2020-08-14"), ("2021-07-19", "2021-08-27"), ("2022-07-25", "2022-09-02")],
    "NI": [("2020-07-16", "2020-08-26"), ("2021-07-22", "2021-09-01"), ("2022-07-14", "2022-08-24")],
    "BE": [("2020-06-25", "2020-08-07"), ("2021-06-24", "2021-08-06"), ("2022-07-07", "2022-08-19")],
    "HE": [("2020-07-06", "2020-08-14"), ("2021-07-19", "2021-08-27"), ("2022-07-25", "2022-09-02")],
    "BW": [("2020-07-30", "2020-09-12"), ("2021-07-29", "2021-09-11"), ("2022-07-28", "2022-09-10")],
}

WINDOW_LABELS = ["2019-12-31", "2020-04-01", "2020-07-01", "2020-10-01", "2021-01-01",
                 "2021-04-01", "2021-07-01", "2021-10-30", "2022-01-01", "2022-04-01",
                 "2022-07-01"]

# ------------------------------------------------------------------ style / layout
W_PX, H_PX, DPI = 3233, 4809, 300
BLUE = "#2A95E2"
GREEN = "#62CC4E"
FILL_GREY = "#B3B3B3"
DARK = "#333333"
GRID = "#EBEBEB"
TICK_SIZE = 10.8
TITLE_SIZE = 13.8

COL_LEFT, COL_STEP, PANEL_W = 240, 746, 711
STRIP_H = 95
A_TOP, A_STEP, A_PANEL_H = 80, 553, 423
B_TOP, B_STEP, B_PANEL_H = 2476, 496, 370
DENS_WIDTH = 0.72

sns.set_theme(style="white")
plt.rcParams["font.family"] = ["Liberation Sans", "DejaVu Sans"]

fig = plt.figure(figsize=(W_PX / DPI, H_PX / DPI), dpi=DPI)


def fig_box(left, top, width, height):
    return [left / W_PX, 1 - (top + height) / H_PX, width / W_PX, height / H_PX]


def draw_strip(left, top, label):
    sax = fig.add_axes(fig_box(left, top, PANEL_W, STRIP_H))
    sax.set_facecolor("#D9D9D9")
    sax.set_xticks([])
    sax.set_yticks([])
    for sp in sax.spines.values():
        sp.set_visible(True)
        sp.set_color(DARK)
        sp.set_linewidth(1.1)
    sax.text(0.5, 0.5, label, ha="center", va="center", fontsize=TICK_SIZE,
             color="#1A1A1A", transform=sax.transAxes)


def style_panel(ax):
    ax.set_facecolor("white")
    for sp in ax.spines.values():
        sp.set_visible(True)
        sp.set_color(DARK)
        sp.set_linewidth(1.1)
    ax.grid(which="major", color=GRID, lw=1.6)
    ax.grid(which="minor", color=GRID, lw=0.8)
    ax.set_axisbelow(True)
    ax.tick_params(which="major", length=3.5, width=1.1, color=DARK,
                   labelsize=TICK_SIZE, labelcolor="#4D4D4D", pad=2.5,
                   bottom=True, left=True)
    ax.tick_params(which="minor", length=0)
    ax.set_xlabel("")
    ax.set_ylabel("")


def nrd0(v):
    hi = np.std(v, ddof=1)
    q75, q25 = np.percentile(v, [75, 25])
    lo = min(hi, (q75 - q25) / 1.34)
    if lo == 0:
        lo = hi or abs(v[0]) or 1.0
    return 0.9 * lo * len(v) ** -0.2


def density(v, grid):
    bw = nrd0(v)
    z = (grid[:, None] - v[None, :]) / bw
    return np.exp(-0.5 * z ** 2).sum(axis=1) / (len(v) * bw * np.sqrt(2 * np.pi))


x0, x1 = pd.Timestamp(X_RANGE[0]), pd.Timestamp(X_RANGE[1])
x_pad = (x1 - x0) * 0.05
all_vals = np.concatenate([np.r_[UPPER[s], LOWER[s], SPIKES[s]] for s in STATES])
y_min, y_max = all_vals.min(), all_vals.max()
y_pad = 0.05 * (y_max - y_min)
YLIM = (y_min - y_pad, y_max + y_pad)

spike_min = min(min(SPIKES[s]) for s in STATES)
spike_max = max(max(SPIKES[s]) for s in STATES)
dens_grid = np.linspace(spike_min, spike_max, 800)

# ------------------------------------------------------------------ panel A
for i, st in enumerate(STATES):
    r, c = divmod(i, 4)
    left = COL_LEFT + c * COL_STEP
    top = A_TOP + r * A_STEP
    draw_strip(left, top, st)
    ax = fig.add_axes(fig_box(left, top + STRIP_H, PANEL_W, A_PANEL_H))

    spikes = np.array(SPIKES[st], dtype=float)
    sdates = pd.date_range(SPIKE_START, periods=len(spikes), freq="7D")
    first = np.nonzero(spikes)[0][0]
    ax.hlines(0, sdates[first], sdates[-1], color=BLUE, lw=0.7, zorder=2)
    ax.vlines(sdates, 0, spikes, color=BLUE, lw=1.2, zorder=2)

    env = pd.DataFrame({"date": pd.date_range(ENV_START, periods=len(UPPER[st]), freq="14D"),
                        "upper": UPPER[st], "lower": LOWER[st]})
    sns.lineplot(data=env, x="date", y="upper", color="black", lw=0.55,
                 estimator=None, ax=ax, zorder=3)
    sns.lineplot(data=env, x="date", y="lower", color="black", lw=0.55,
                 estimator=None, ax=ax, zorder=3)

    for s, e in HOLIDAYS[st]:
        s, e = pd.Timestamp(s), min(pd.Timestamp(e), x1)
        ax.axvspan(s, e, color=GREEN, alpha=0.2, lw=0, zorder=4)
        ax.axvline(s, color=GREEN, lw=1.6, zorder=5)
        ax.axvline(e, color=GREEN, lw=1.6, zorder=5)

    ax.set_xlim(x0 - x_pad, x1 + x_pad)
    ax.set_ylim(YLIM)
    ax.xaxis.set_major_locator(mdates.YearLocator())
    ax.xaxis.set_minor_locator(mdates.MonthLocator(bymonth=7))
    ax.xaxis.set_major_formatter(mdates.DateFormatter("%Y"))
    ax.yaxis.set_major_locator(MultipleLocator(2))
    ax.yaxis.set_minor_locator(MultipleLocator(1))
    style_panel(ax)
    if c != 0:
        ax.tick_params(labelleft=False)
    if r != 3:
        ax.tick_params(labelbottom=False)

# ------------------------------------------------------------------ panel B
edges = [pd.Timestamp(t) for t in WINDOW_LABELS] + [pd.Timestamp("2100-01-01")]
for i, st in enumerate(STATES):
    r, c = divmod(i, 4)
    left = COL_LEFT + c * COL_STEP
    top = B_TOP + r * B_STEP
    draw_strip(left, top, st)
    ax = fig.add_axes(fig_box(left, top + STRIP_H, PANEL_W, B_PANEL_H))

    spikes = np.array(SPIKES[st], dtype=float)
    sdates = pd.date_range(SPIKE_START, periods=len(spikes), freq="7D")
    for k in range(len(WINDOW_LABELS)):
        mask = (sdates >= edges[k]) & (sdates < edges[k + 1])
        dens = density(spikes[mask], dens_grid)
        xs = k + DENS_WIDTH * dens
        ax.fill_betweenx(dens_grid, k, xs, color=FILL_GREY, lw=0, zorder=2)
        sns.lineplot(x=xs, y=dens_grid, orient="y", sort=False, estimator=None,
                     color="black", lw=1.4, ax=ax, zorder=3)

    ax.set_xlim(-0.6, len(WINDOW_LABELS) + 0.57)
    ax.set_ylim(YLIM)
    ax.set_xticks(range(len(WINDOW_LABELS)))
    ax.set_xticklabels(WINDOW_LABELS, rotation=90)
    ax.yaxis.set_major_locator(MultipleLocator(2))
    ax.yaxis.set_minor_locator(MultipleLocator(1))
    style_panel(ax)
    ax.grid(which="minor", axis="x", visible=False)
    if c != 0:
        ax.tick_params(labelleft=False)
    if r != 3:
        ax.tick_params(labelbottom=False)

# ------------------------------------------------------------------ titles
def fig_text(x, y, s, **kw):
    fig.text(x / W_PX, 1 - y / H_PX, s, **kw)


fig_text(86, 1169, "ln(ΔΔ incidence)", rotation=90, ha="center", va="center",
         fontsize=TITLE_SIZE, color="black")
fig_text(86, 3452, "Density [ ln(ΔΔ incidence) ]", rotation=90, ha="center", va="center",
         fontsize=TITLE_SIZE, color="black")
fig_text(1714, 2371, "Date", ha="center", va="center", fontsize=TITLE_SIZE, color="black")
fig_text(1714, 4770, "Time", ha="center", va="center", fontsize=TITLE_SIZE, color="black")
fig_text(60, 92, "A", ha="left", va="center", fontsize=14, fontweight="bold", color="black")
fig_text(60, 2408, "B", ha="left", va="center", fontsize=14, fontweight="bold", color="black")

fig.savefig("out.png", dpi=DPI, facecolor="white")
